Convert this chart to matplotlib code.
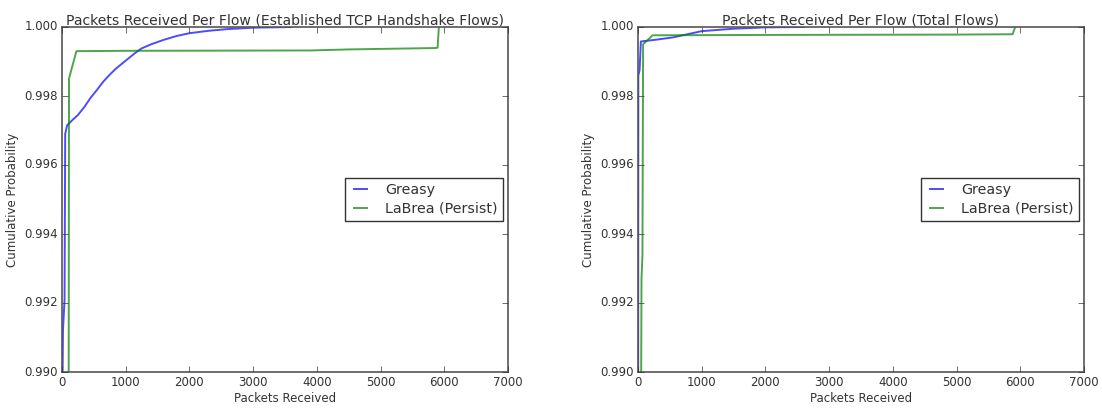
import matplotlib
matplotlib.use("Agg")
import matplotlib.pyplot as plt

plt.style.use("classic")
plt.rcParams["font.family"] = ["DejaVu Sans"]

# Left panel: Established TCP handshake flows
left_greasy_x = [10, 15, 40, 50, 80, 150, 250, 350, 450, 550, 650, 750, 850, 950, 1050, 1150,
                 1250, 1400, 1600, 1800, 2000, 2300, 2600, 3000, 3600]
left_greasy_y = [0.990, 0.9912, 0.9921, 0.9969, 0.99715, 0.99728, 0.99745, 0.99768, 0.99795,
                 0.99818, 0.99842, 0.99862, 0.99880, 0.99895, 0.99910, 0.99925, 0.99938,
                 0.99950, 0.99963, 0.99974, 0.99982, 0.99989, 0.99994, 0.99998, 1.0]
left_labrea_x = [105, 110, 132, 226, 1000, 3900, 4500, 5850, 5895, 5915]
left_labrea_y = [0.990, 0.9985, 0.99866, 0.9993, 0.99931, 0.99932, 0.99935, 0.99939, 0.9994, 1.0]

# Right panel: total flows
right_greasy_x = [3, 5, 25, 45, 276, 552, 1000, 1500, 2000, 2600]
right_greasy_y = [0.990, 0.9986, 0.99875, 0.99958, 0.99963, 0.9997, 0.99988, 0.99995, 0.99999, 1.0]
right_labrea_x = [50, 55, 70, 80, 230, 2000, 5000, 5880, 5920]
right_labrea_y = [0.990, 0.9927, 0.9934, 0.9995, 0.99976, 0.99977, 0.99978, 0.99979, 1.0]

titles = ["Packets Received Per Flow (Established TCP Handshake Flows)",
          "Packets Received Per Flow (Total Flows)"]
series_labels = ["Greasy", "LaBrea (Persist)"]
x_ticks = [0, 1000, 2000, 3000, 4000, 5000, 6000, 7000]
y_ticks = [0.990, 0.992, 0.994, 0.996, 0.998, 1.000]

fig = plt.figure(figsize=(11.02, 4.09), dpi=100, facecolor="white")
ax1 = fig.add_axes([62 / 1102, 37 / 409, 446 / 1102, 345 / 409])
ax2 = fig.add_axes([638 / 1102, 37 / 409, 446 / 1102, 345 / 409])

data = [
    (ax1, left_greasy_x, left_greasy_y, left_labrea_x, left_labrea_y, titles[0]),
    (ax2, right_greasy_x, right_greasy_y, right_labrea_x, right_labrea_y, titles[1]),
]

txt = "#333333"
for ax, gx, gy, lx, ly, title in data:
    ax.plot(gx, gy, color="b", alpha=0.7, lw=1.4, label=series_labels[0])
    ax.plot(lx, ly, color="g", alpha=0.7, lw=1.4, label=series_labels[1])
    ax.set_xlim(0, 7000)
    ax.set_ylim(0.990, 1.000)
    ax.set_xticks(x_ticks)
    ax.set_yticks(y_ticks)
    ax.set_yticklabels([f"{v:.3f}" for v in y_ticks])
    ax.tick_params(labelsize=8.5, colors=txt, direction="in", length=4, pad=3,
                   top=True, right=True)
    for s in ax.spines.values():
        s.set_color("#555555")
        s.set_linewidth(1.2)
    ax.set_title(title, fontsize=10.1, color=txt, pad=2)
    ax.set_xlabel("Packets Received", fontsize=8.5, color=txt, labelpad=2)
    ax.set_ylabel("Cumulative Probability", fontsize=8.5, color=txt, labelpad=4)
    leg = ax.legend(loc="center right", fontsize=10.3, borderaxespad=0.35, handlelength=1.5,
                    handletextpad=1.0, borderpad=0.35, labelspacing=0.3)
    leg.get_frame().set_edgecolor("#333333")
    for t in leg.get_texts():
        t.set_color(txt)

fig.savefig("out.png", dpi=100, facecolor="white")
